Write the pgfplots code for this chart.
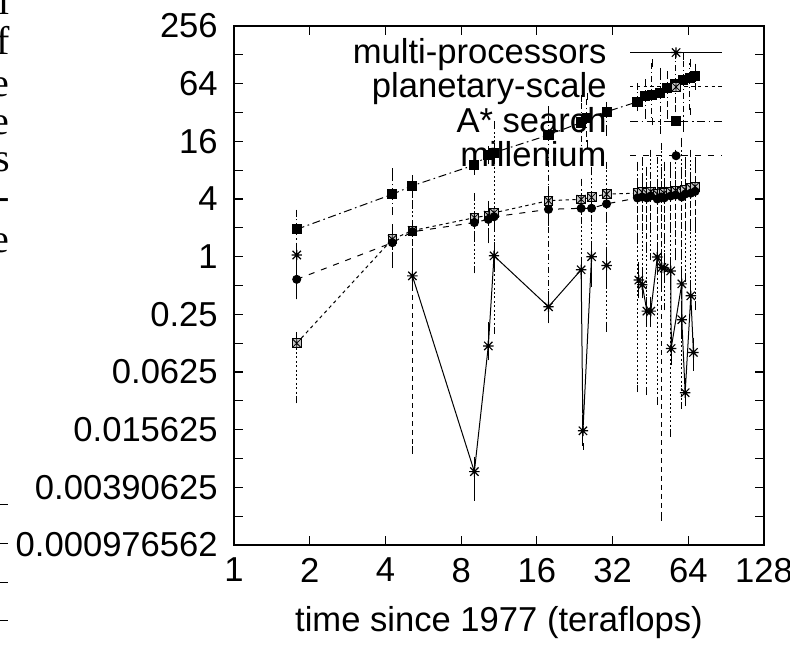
\documentclass[border=0pt]{standalone}
\usepackage{fontspec}
\setmainfont{Liberation Sans}
\newfontfamily\seriffont{Liberation Serif}
\usepackage{pgfplots}
\pgfplotsset{compat=1.18}
\pgfdeclareplotmark{gpstar}{%
  \pgfpathmoveto{\pgfpoint{-\pgfplotmarksize}{0pt}}\pgfpathlineto{\pgfpoint{\pgfplotmarksize}{0pt}}%
  \pgfpathmoveto{\pgfpoint{0pt}{-\pgfplotmarksize}}\pgfpathlineto{\pgfpoint{0pt}{\pgfplotmarksize}}%
  \pgfpathmoveto{\pgfpoint{-0.8\pgfplotmarksize}{-0.8\pgfplotmarksize}}\pgfpathlineto{\pgfpoint{0.8\pgfplotmarksize}{0.8\pgfplotmarksize}}%
  \pgfpathmoveto{\pgfpoint{-0.8\pgfplotmarksize}{0.8\pgfplotmarksize}}\pgfpathlineto{\pgfpoint{0.8\pgfplotmarksize}{-0.8\pgfplotmarksize}}%
  \pgfusepathqstroke}
\pgfdeclareplotmark{boxx}{%
  \pgfpathrectangle{\pgfpoint{-\pgfplotmarksize}{-\pgfplotmarksize}}{\pgfpoint{2\pgfplotmarksize}{2\pgfplotmarksize}}%
  \pgfusepathqfillstroke
  \pgfpathmoveto{\pgfpoint{-\pgfplotmarksize}{-\pgfplotmarksize}}\pgfpathlineto{\pgfpoint{\pgfplotmarksize}{\pgfplotmarksize}}%
  \pgfpathmoveto{\pgfpoint{-\pgfplotmarksize}{\pgfplotmarksize}}\pgfpathlineto{\pgfpoint{\pgfplotmarksize}{-\pgfplotmarksize}}%
  \pgfpathmoveto{\pgfpoint{0pt}{-\pgfplotmarksize}}\pgfpathlineto{\pgfpoint{0pt}{\pgfplotmarksize}}%
  \pgfusepathqstroke}
\begin{document}
\begin{tikzpicture}
\begin{axis}[
  scale only axis,
  width=265pt, height=259.5pt,
  xmode=log, ymode=log, log basis x=2, log basis y=2,
  xmin=1, xmax=128, ymin=0.0009765625, ymax=256,
  xtick={1,2,4,8,16,32,64,128},
  xticklabels={1,2,4,8,16,32,64,128},
  ytick={0.0009765625,0.00390625,0.015625,0.0625,0.25,1,4,16,64,256},
  yticklabels={0.000976562,0.00390625,0.015625,0.0625,0.25,1,4,16,64,256},
  extra y ticks={0.001953125,0.0078125,0.03125,0.125,0.5,2,8,32,128},
  extra y tick labels={},
  tick align=inside, major tick length=4.5pt,
  tick style={black, line width=0.6pt},
  axis line style={line width=0.7pt},
  tick label style={font=\fontsize{17.3}{20}\selectfont},
  yticklabel style={xshift=-4.6pt},
  xticklabel style={yshift=-3pt},
  xlabel={time since 1977 (teraflops)},
  xlabel style={font=\fontsize{17.3}{20}\selectfont, at={(axis description cs:0.5,0)}, anchor=north, yshift=-27pt},
  legend plot pos=right,
  legend cell align=right,
  legend image code/.code={\draw[mark repeat=2,mark phase=2,yshift=1.5pt,#1] plot coordinates {(0pt,0pt) (23pt,0pt) (46pt,0pt)};},
  legend style={draw=none, fill=none, inner sep=0pt, font=\fontsize{17.3}{20}\selectfont,
    at={(rel axis cs:0.9226,0.977)}, anchor=north east, row sep=0pt, column sep=11.5pt,
    nodes={inner xsep=0pt, inner ysep=0pt, text height=12.5pt, text depth=4.7pt}},
  error bars/error mark=-,
]
% multi-processors
\addplot[black, line width=0.5pt, solid, mark=gpstar, mark size=2.6pt, mark options={solid, line width=0.6pt},
  error bars/.cd, y dir=both, y explicit, error mark options={solid, mark size=1.8pt}, error bar style={solid, line width=0.5pt}]
coordinates {
(40.7,0.57) += (0,0.23) -= (0,0.17)
(42.0,0.51) += (0,0.19) -= (0,0.11)
(43.8,0.27) += (0,0.08) -= (0,0.07)
(45.4,0.27) += (0,0.08) -= (0,0.07)
(48.2,0.99) += (0,0.31) -= (0,0.29)
(50.2,0.77) += (0,0.23) -= (0,0.17)
(51.3,0.76) += (0,0.24) -= (0,0.16)
(54.5,0.71) += (0,0.19) -= (0,0.21)
(54.7,0.11) += (0,0.04) -= (0,0.03)
(60.3,0.52) += (0,0.18) -= (0,0.12)
(60.3,0.22) += (0,0.08) -= (0,0.07)
(62.2,0.038) += (0,0.012) -= (0,0.008)
(65.5,0.39) += (0,0.11) -= (0,0.09)
(67.1,0.10) += (0,0.03) -= (0,0.03)
};
\addlegendentry{multi-processors}
% planetary-scale
\addplot[black, line width=0.5pt, dash pattern=on 1.7pt off 1.7pt, mark=boxx, mark size=2.2pt, mark options={solid, fill=gray!45, line width=0.4pt},
  error bars/.cd, y dir=both, y explicit, error mark options={solid, mark size=1.8pt}, error bar style={dash pattern=on 1pt off 1.2pt, line width=0.5pt}]
coordinates {
(1.776,0.125) += (0,0.025) -= (0,0.093)
(4.26,1.52) += (0,0.48) -= (0,0.69)
(5.12,1.87) += (0,1.68) -= (0,0.87)
(9.03,2.55) += (0,1.65) -= (0,1.82)
(10.26,2.7) += (0,0.8) -= (0,1.2)
(10.81,2.87) += (0,20.83) -= (0,2.70)
(17.8,3.84) += (0,1.16) -= (0,1.34)
(24.0,3.97) += (0,2.03) -= (0,3.47)
(26.4,4.17) += (0,3.83) -= (0,3.64)
(30.3,4.5) += (0,4.5) -= (0,4.32)
(40.2,4.6) += (0,4.4) -= (0,4.558)
(42.0,4.7) += (0,5.3) -= (0,4.1)
(43.8,4.6) += (0,3.4) -= (0,4.561)
(45.4,4.8) += (0,7.2) -= (0,3.8)
(48.2,4.5) += (0,5.5) -= (0,4.469)
(50.2,4.7) += (0,9.3) -= (0,4.2)
(51.3,4.6) += (0,4.4) -= (0,4.3)
(54.5,4.8) += (0,3.2) -= (0,4.7856)
(57.0,4.9) += (0,7.1) -= (0,3.9)
(60.3,4.8) += (0,11.2) -= (0,4.772)
(62.2,5.0) += (0,5) -= (0,4.4)
(65.5,5.2) += (0,6.8) -= (0,4.7)
(68.1,5.4) += (0,4.6) -= (0,5.1)
};
\addlegendentry{planetary-scale}
% A* search
\addplot[black, line width=0.5pt, dash pattern=on 4pt off 1.8pt on 0.8pt off 1.8pt, mark=square*, mark size=2.3pt, mark options={solid},
  error bars/.cd, y dir=both, y explicit, error mark options={solid, mark size=1.8pt}, error bar style={dash pattern=on 3pt off 1.5pt on 0.6pt off 1.5pt, line width=0.5pt}]
coordinates {
(1.776,1.93) += (0,0.92) -= (0,1.54)
(4.26,4.48) += (0,3.22) -= (0,1.48)
(5.12,5.5) += (0,1.0) -= (0,1.0)
(9.03,9.05) += (0,1.45) -= (0,1.25)
(10.26,11.5) += (0,1.5) -= (0,1.5)
(10.81,12.2) += (0,1.8) -= (0,1.7)
(17.8,18.6) += (0,15.4) -= (0,18.36)
(24.0,25.2) += (0,19.8) -= (0,15.2)
(25.3,27.9) += (0,19.1) -= (0,12.9)
(30.3,32.6) += (0,5.4) -= (0,12.6)
(40.2,41.4) += (0,18.6) -= (0,5.4)
(43.1,47.5) += (0,17.5) -= (0,17.5)
(45.9,48.8) += (0,56.2) -= (0,22.8)
(49.4,51.3) += (0,34.7) -= (0,30.3)
(52.7,57.5) += (0,22.5) -= (0,27.5)
(56.7,63.5) += (0,63.5) -= (0,28.5)
(61.0,70) += (0,52) -= (0,48)
(65.0,73.5) += (0,31.5) -= (0,40.5)
(68.1,77) += (0,18) -= (0,17)
};
\addlegendentry{A* search}
% millenium
\addplot[black, line width=0.5pt, dash pattern=on 3pt off 3.5pt, mark=*, mark size=2.0pt, mark options={solid},
  error bars/.cd, y dir=both, y explicit, error mark options={solid, mark size=1.8pt}, error bar style={dash pattern=on 2.5pt off 2pt, line width=0.5pt}]
coordinates {
(1.776,0.58) += (0,0.17) -= (0,0.19)
(4.26,1.40) += (0,0.3) -= (0,0.5)
(5.12,1.82) += (0,0.28) -= (0,1.8104)
(9.03,2.27) += (0,0.43) -= (0,0.67)
(10.26,2.45) += (0,0.55) -= (0,0.65)
(10.81,2.61) += (0,0.49) -= (0,0.61)
(17.8,3.12) += (0,0.48) -= (0,0.82)
(24.0,3.2) += (0,0.5) -= (0,0.8)
(26.4,3.2) += (0,0.5) -= (0,0.7)
(30.3,3.56) += (0,0.64) -= (0,1.06)
(40.2,4.1) += (0,1.9) -= (0,2.6)
(42.0,4.2) += (0,2.3) -= (0,2.2)
(43.8,4.1) += (0,1.4) -= (0,2.9)
(45.4,4.3) += (0,2.7) -= (0,2.3)
(48.2,4.0) += (0,2) -= (0,3)
(49.9,4.2) += (0,3.8) -= (0,4.1981)
(51.3,4.1) += (0,1.9) -= (0,2.6)
(54.5,4.3) += (0,4.7) -= (0,2.3)
(57.0,4.4) += (0,2.6) -= (0,3.4)
(60.3,4.2) += (0,3.8) -= (0,3.2)
(62.2,4.5) += (0,4.5) -= (0,2.5)
(65.5,4.6) += (0,2.4) -= (0,2.6)
(68.1,4.8) += (0,4.2) -= (0,2.8)
};
\addlegendentry{millenium}
% multi-processors, other segments
\addplot[forget plot, black, line width=0.5pt, solid, mark=gpstar, mark size=2.6pt, mark options={solid, line width=0.6pt},
  error bars/.cd, y dir=both, y explicit, error mark options={solid, mark size=1.8pt}, error bar style={solid, line width=0.5pt}]
coordinates {
(5.12,0.63) += (0,0.17) -= (0,0.13)
(9.03,0.0057) += (0,0.0018) -= (0,0.0026)
(10.26,0.117) += (0,0.073) -= (0,0.027)
(10.81,1.02) += (0,0.28) -= (0,0.22)
(17.8,0.30) += (0,0.10) -= (0,0.08)
(24.0,0.73) += (0,0.17) -= (0,0.18)
(24.4,0.0152) += (0,0.0068) -= (0,0.0047)
(26.4,1.0) += (0,0.3) -= (0,0.4)
};
\addplot[forget plot, only marks, black, mark=gpstar, mark size=2.6pt, mark options={solid, line width=0.6pt},
  error bars/.cd, y dir=both, y explicit, error mark options={solid, mark size=1.8pt}, error bar style={solid, line width=0.5pt}]
coordinates {
(1.776,1.04) += (0,0.21) -= (0,0.19)
(30.3,0.81) += (0,0.29) -= (0,0.31)
};
\end{axis}
\coordinate (O) at ([shift={(-117pt,-51.5pt)}]current axis.south west);
\begin{scope}[shift={(O)}]
\foreach \c/\b in {l/15, f/55, e/97, e/135, s/172, -/210, e/253}{
  \node[anchor=base east, inner sep=0pt, font=\seriffont\fontsize{20}{23}\selectfont] at (5pt,324pt-\b*0.5pt) {\c};
}
\foreach \b in {504,543,582,620}{
  \draw[line width=0.5pt] (0pt,324pt-\b*0.5pt) -- (4pt,324pt-\b*0.5pt);
}
\end{scope}
\pgfresetboundingbox
\path[use as bounding box] (O) rectangle ([shift={(13pt,13pt)}]current axis.north east);
\end{tikzpicture}
\end{document}
